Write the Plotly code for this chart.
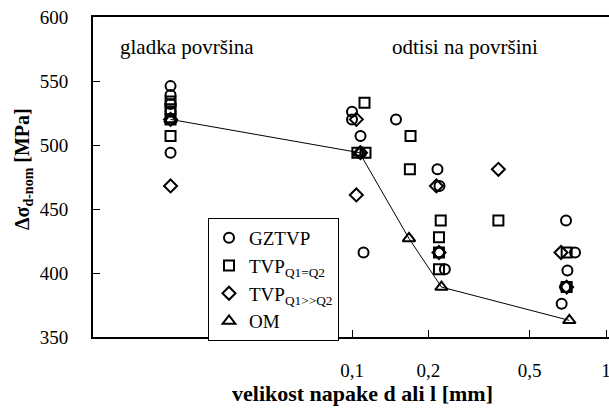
import plotly.graph_objects as go

# ---- data ----
gz_x = [0.0193, 0.0193, 0.0193, 0.0193, 0.0193, 0.0193,
        0.100, 0.100, 0.108, 0.108, 0.111, 0.149,
        0.217, 0.221, 0.221, 0.232,
        0.696, 0.755, 0.705, 0.690, 0.669]
gz_y = [546, 539, 532, 526, 520, 494,
        526, 520, 507, 494, 416, 520,
        481, 468, 416, 403,
        441, 416, 402, 389, 376]

sq_x = [0.0193, 0.0193, 0.0193, 0.0193,
        0.112, 0.105, 0.113, 0.170, 0.169,
        0.2235, 0.220, 0.220, 0.220, 0.377,
        0.700, 0.700]
sq_y = [534, 528, 520, 507,
        533, 494, 494, 507, 481,
        441, 428, 416, 403, 441,
        416, 389]

di_x = [0.0193, 0.0193, 0.104, 0.108, 0.104, 0.215, 0.220, 0.377, 0.665, 0.700]
di_y = [520, 468, 520, 494, 461, 468, 416, 481, 416, 389]

om_x = [0.0193, 0.107, 0.1676, 0.225, 0.717]
om_y = [520, 494, 427, 389, 363]

x_ticks = [0.1, 0.2, 0.5, 1]
x_ticktext = ["0,1", "0,2", "0,5", "1"]

FONT = "Liberation Serif, serif"
mk_line = dict(color="black", width=2)

L, R, T, B = 93, 0, 17, 71
W, H = 609, 408
pw, ph = W - L - R, H - T - B


def px(x):
    return (x - L) / pw


def py(y):
    return (H - B - y) / ph


def ann(text, x, y, size, angle=0):
    return dict(text=text, x=px(x), y=py(y), xref="paper", yref="paper",
                xanchor="center", yanchor="middle", showarrow=False,
                textangle=angle, font=dict(family=FONT, size=size, color="black"))


fig = go.Figure()

# OM connecting line (no legend)
fig.add_trace(go.Scatter(x=om_x, y=om_y, mode="lines",
                         line=dict(color="black", width=1), showlegend=False,
                         hoverinfo="skip"))

fig.add_trace(go.Scatter(x=gz_x, y=gz_y, mode="markers", name="GZTVP",
                         marker=dict(symbol="circle-open", size=10, line=mk_line, color="black")))
fig.add_trace(go.Scatter(x=sq_x, y=sq_y, mode="markers", name="TVP<sub>Q1=Q2</sub>",
                         marker=dict(symbol="square-open", size=10, line=mk_line, color="black")))
fig.add_trace(go.Scatter(x=di_x, y=di_y, mode="markers", name="TVP<sub>Q1&gt;&gt;Q2</sub>",
                         marker=dict(symbol="diamond-open", size=10, line=mk_line, color="black")))
fig.add_trace(go.Scatter(x=om_x, y=om_y, mode="markers", name="OM",
                         marker=dict(symbol="triangle-up-open", size=11, line=mk_line, color="black")))

fig.update_layout(
    width=W, height=H,
    margin=dict(l=L, r=R, t=T, b=B, autoexpand=False),
    plot_bgcolor="white", paper_bgcolor="white",
    font=dict(family=FONT, color="black"),
    legend=dict(x=px(208), y=py(218), xanchor="left", yanchor="top",
                bordercolor="black", borderwidth=1, bgcolor="white",
                font=dict(family=FONT, size=19, color="black"),
                tracegroupgap=0, itemwidth=30),
    annotations=[
        ann("gladka površina", 187, 47, 21),
        ann("odtisi na površini", 465, 47, 21),
        ann("<b>velikost napake d ali l [mm]</b>", 362, 393, 22),
        ann("<b>Δσ<sub>d-nom</sub> [MPa]</b>", 23, 169, 20, -90),
    ],
)

fig.update_xaxes(type="log", range=[-2.0197, 0.0118], automargin=False,
                 tickvals=x_ticks, ticktext=x_ticktext,
                 ticks="inside", ticklen=7, tickwidth=1, tickcolor="black",
                 showline=True, linecolor="black", linewidth=2, mirror=True,
                 showgrid=False, zeroline=False,
                 tickfont=dict(family=FONT, size=19, color="black"),
                 ticklabelstandoff=15, ticklabeloverflow="allow")
fig.update_yaxes(range=[350, 600], dtick=50, automargin=False,
                 ticks="inside", ticklen=7, tickwidth=1, tickcolor="black",
                 showline=True, linecolor="black", linewidth=2,
                 showgrid=False, zeroline=False,
                 tickfont=dict(family=FONT, size=19, color="black"),
                 ticklabelstandoff=19)

fig.write_html("out.html", config={"displayModeBar": False},
               post_script="document.body.style.margin='0';document.body.style.padding='0';")
